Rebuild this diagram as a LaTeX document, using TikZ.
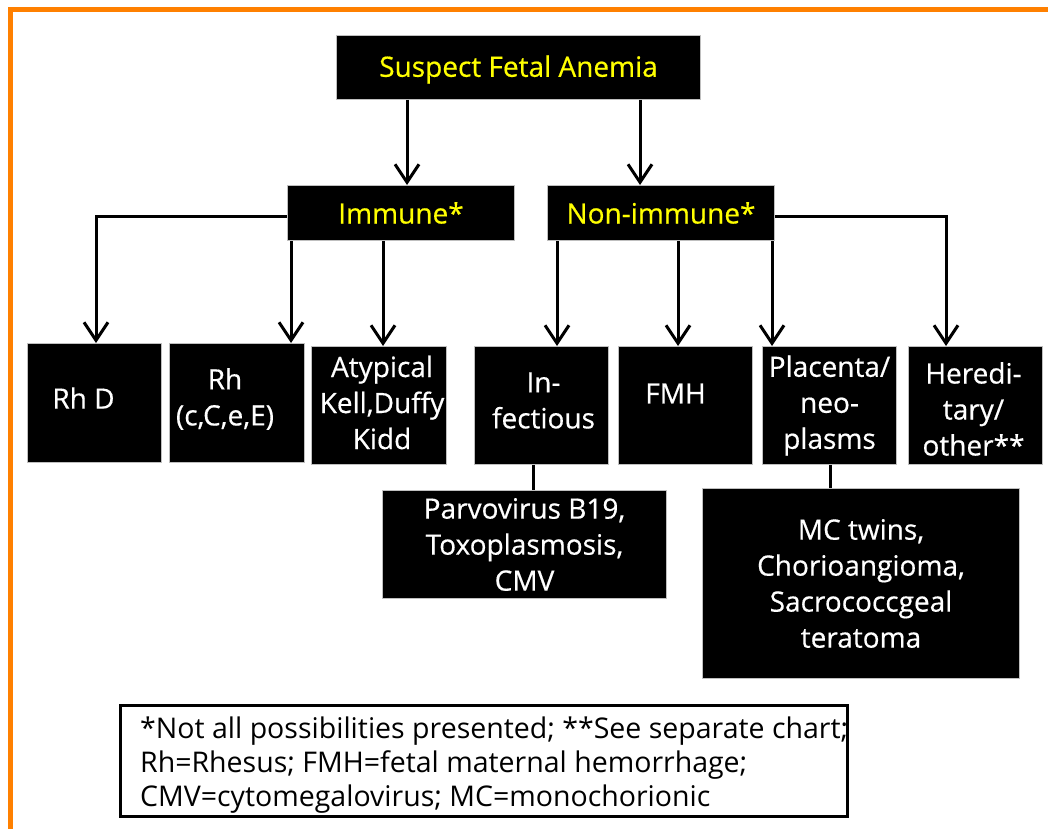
\documentclass[tikz,border=0pt]{standalone}
\usepackage{fontspec}
\setmainfont{Open Sans}
\newfontfamily\boxfont{Open Sans}[FakeBold=0.5]
\usetikzlibrary{arrows.meta}
\definecolor{frameorange}{RGB}{255,128,0}
\definecolor{titleyellow}{RGB}{255,255,0}
\begin{document}
\begin{tikzpicture}[x=1pt,y=-1pt,
  bbox/.style={draw=gray!50, fill=black, inner sep=0pt, line width=1pt},
  wtxt/.style={text=white, align=center, font=\boxfont\fontsize{28}{36}\selectfont},
  ytxt/.style={text=titleyellow, align=center, font=\boxfont\fontsize{28}{36}\selectfont},
  conn/.style={line width=3pt, draw=black},
  arr/.style={conn, -{Straight Barb[length=18pt,width=24pt]}},
  legbox/.style={draw=black, fill=white, line width=3pt, inner sep=0pt},
  legtxt/.style={align=left, inner sep=0pt, font=\fontsize{28.5}{34}\selectfont}
]
\fill[white] (0,0) rectangle (1048,829);
\useasboundingbox (0,0) rectangle (1048,829);
\draw[frameorange, line width=5pt] (1048,10) -- (10,10) -- (10,829);

% top levels
\node[bbox, minimum width=364pt, minimum height=64pt,
  label={[ytxt, yshift=-2pt]center:Suspect Fetal Anemia}] (suspect) at (518.5,67.5) {};
\node[bbox, ytxt, minimum width=227pt, minimum height=55pt] (immune) at (401,213) {Immune*};
\node[bbox, ytxt, minimum width=227pt, minimum height=55pt] (nonimm) at (661,213) {Non-immune*};

% leaf boxes
\node[bbox, minimum width=134pt, minimum height=119pt,
  label={[wtxt, xshift=-11pt, yshift=5pt]center:Rh D}] (rhd) at (94.5,403) {};
\node[bbox, minimum width=135pt, minimum height=119pt,
  label={[wtxt, xshift=-12pt, yshift=4pt]center:Rh\\(c,C,e,E)}] (rh) at (237,403) {};
\node[bbox, minimum width=135pt, minimum height=118pt,
  label={[wtxt, xshift=3pt, yshift=3pt]center:Atypical\\Kell,Duffy\\Kidd}] (atyp) at (379,405.5) {};
\node[bbox, minimum width=134pt, minimum height=118pt,
  label={[wtxt, xshift=2pt, yshift=5pt]center:In-\\fectious}] (infect) at (541.5,405.5) {};
\node[bbox, minimum width=134pt, minimum height=118pt,
  label={[wtxt, xshift=-10pt, yshift=12pt]center:FMH}] (fmh) at (685.5,405.5) {};
\node[bbox, wtxt, minimum width=134pt, minimum height=118pt] (plac) at (829.5,405.5) {Placenta/\\neo-\\plasms};
\node[bbox, minimum width=134pt, minimum height=118pt,
  label={[wtxt, xshift=-2pt, yshift=-3.5pt]center:Heredi-\\tary/\\other**}] (hered) at (975.5,405.5) {};

% lower boxes
\node[bbox, wtxt, minimum width=284pt, minimum height=108pt] (parvo) at (524.5,544.5) {Parvovirus B19,\\Toxoplasmosis,\\CMV};
\node[bbox, wtxt, minimum width=317pt, minimum height=190pt] (mc) at (861,583.5) {MC twins,\\Chorioangioma,\\Sacrococcgeal\\teratoma};

% legend
\node[legbox, minimum width=727pt, minimum height=111pt] (legend) at (484,761) {};
\node[legtxt, anchor=west] (legendtext) at (140,765) {*Not all possibilities presented; **See separate chart;\\Rh=Rhesus; FMH=fetal maternal hemorrhage;\\CMV=cytomegalovirus; MC=monochorionic};

% connector x positions
\coordinate (xa) at (407,0);
\coordinate (xb) at (640,0);
\coordinate (xc) at (291,0);
\coordinate (xd) at (383,0);
\coordinate (xe) at (557,0);
\coordinate (xf) at (678,0);
\coordinate (xg) at (772,0);
\coordinate (xh) at (946,0);
\coordinate (xi) at (96,0);
\coordinate (xj) at (533,0);
\coordinate (xk) at (830,0);

\draw[arr] (suspect.south -| xa) -- (immune.north -| xa);
\draw[arr] (suspect.south -| xb) -- (nonimm.north -| xb);
\draw[arr] ([yshift=-3pt]immune.west) -| (rhd.north -| xi);
\draw[arr] (immune.south -| xc) -- (rh.north -| xc);
\draw[arr] (immune.south -| xd) -- (atyp.north -| xd);
\draw[arr] (nonimm.south -| xe) -- (infect.north -| xe);
\draw[arr] (nonimm.south -| xf) -- (fmh.north -| xf);
\draw[arr] (nonimm.south -| xg) -- (plac.north -| xg);
\draw[arr] ([yshift=-3pt]nonimm.east) -| (hered.north -| xh);
\draw[conn] (infect.south -| xj) -- (parvo.north -| xj);
\draw[conn] (plac.south -| xk) -- (mc.north -| xk);
\end{tikzpicture}
\end{document}
